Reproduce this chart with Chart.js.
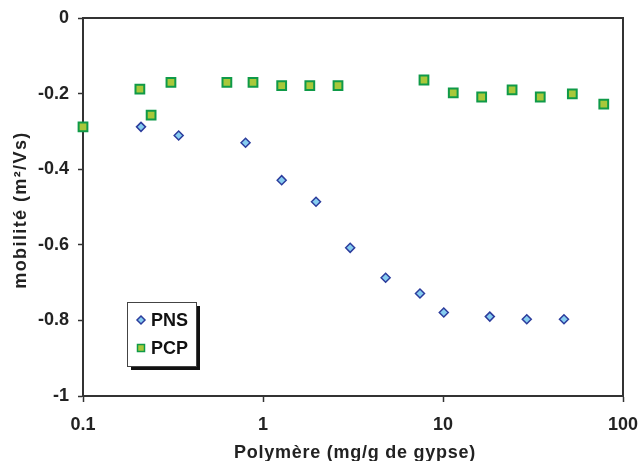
<!DOCTYPE html>
<html>
<head>
<meta charset="utf-8">
<script src="https://cdn.jsdelivr.net/npm/chart.js"></script>
<style>
  html, body { margin: 0; padding: 0; background: #fff; }
  #wrap { width: 640px; height: 461px; }
</style>
</head>
<body>
<div id="wrap"><canvas id="chart" width="640" height="461"></canvas></div>
<script>
// values
const pnsX = [0.21, 0.34, 0.80, 1.27, 1.97, 3.05, 4.8, 7.45, 10.1, 18.2, 29.2, 47];
const pnsY = [-0.288, -0.311, -0.33, -0.429, -0.486, -0.608, -0.687, -0.729, -0.779, -0.79, -0.797, -0.797];
const pcpX = [0.1, 0.207, 0.239, 0.308, 0.63, 0.88, 1.27, 1.82, 2.61, 7.84, 11.4, 16.4, 24.2, 34.7, 52.3, 78.2];
const pcpY = [-0.288, -0.188, -0.257, -0.17, -0.17, -0.17, -0.179, -0.179, -0.179, -0.164, -0.198, -0.209, -0.19, -0.209, -0.201, -0.228];
const xTicks = [0.1, 1, 10, 100];
const seriesNames = ["PNS", "PCP"];
const xTitle = "Polymère (mg/g de gypse)";
const yTitle = "mobilité (m²/Vs)";

const FONT = "'Liberation Sans', Arial, sans-serif";
const AXIS = "#333333";

const toPoints = (xs, ys) => xs.map((x, i) => ({ x: x, y: ys[i] }));

// box around the plot (top + right edges), axis titles (a bit stretched), legend with shadow
const framePlugin = {
  id: "frame",
  afterDraw(chart) {
    const ctx = chart.ctx;
    const a = chart.chartArea;
    ctx.save();
    ctx.strokeStyle = AXIS;
    ctx.lineWidth = 2;
    ctx.beginPath();
    ctx.moveTo(a.left, a.top);
    ctx.lineTo(a.right, a.top);
    ctx.lineTo(a.right, a.bottom);
    ctx.stroke();

    // titles
    ctx.fillStyle = "#222";
    ctx.font = "bold 18px " + FONT;
    ctx.textAlign = "center";
    ctx.textBaseline = "middle";
    ctx.letterSpacing = "0.75px";
    ctx.fillText(xTitle, (a.left + a.right) / 2 + 2, 453);
    ctx.save();
    ctx.translate(21, (a.top + a.bottom) / 2 + 3);
    ctx.rotate(-Math.PI / 2);
    ctx.letterSpacing = "1.4px";
    ctx.fillText(yTitle, 0, 0);
    ctx.restore();
    ctx.letterSpacing = "0px";

    // legend
    const lx = 127, ly = 302, lw = 69, lh = 64;
    ctx.fillStyle = "#111";
    ctx.fillRect(lx + 4, ly + 4, lw, lh);
    ctx.fillStyle = "#fff";
    ctx.fillRect(lx, ly, lw, lh);
    ctx.strokeStyle = "#444";
    ctx.lineWidth = 1;
    ctx.strokeRect(lx + 0.5, ly + 0.5, lw, lh);

    const ds = chart.data.datasets;
    const rows = [ly + 18, ly + 46];
    ds.forEach((d, i) => {
      const cx = lx + 14, cy = rows[i];
      ctx.fillStyle = d.backgroundColor;
      ctx.strokeStyle = d.borderColor;
      ctx.lineWidth = 1.5;
      ctx.beginPath();
      if (d.pointStyle === "rectRot") {
        ctx.moveTo(cx, cy - 4);
        ctx.lineTo(cx + 4, cy);
        ctx.lineTo(cx, cy + 4);
        ctx.lineTo(cx - 4, cy);
        ctx.closePath();
      } else {
        ctx.rect(cx - 3.5, cy - 3.5, 7, 7);
      }
      ctx.fill();
      ctx.stroke();
      ctx.fillStyle = "#111";
      ctx.font = "bold 18px " + FONT;
      ctx.textBaseline = "middle";
      ctx.textAlign = "left";
      ctx.fillText(d.label, lx + 24, cy + 1);
    });
    ctx.restore();
  },
};

new Chart(document.getElementById("chart"), {
  type: "scatter",
  data: {
    datasets: [
      {
        label: seriesNames[0],
        data: toPoints(pnsX, pnsY),
        pointStyle: "rectRot",
        pointRadius: 4.5,
        pointHoverRadius: 4.5,
        backgroundColor: "#86cdf0",
        borderColor: "#2c3c9c",
        borderWidth: 1.5,
        clip: false,
      },
      {
        label: seriesNames[1],
        data: toPoints(pcpX, pcpY),
        pointStyle: "rect",
        pointRadius: 6.2,
        pointHoverRadius: 6.2,
        backgroundColor: "#a8c83a",
        borderColor: "#0f9a48",
        borderWidth: 2,
        clip: false,
      },
    ],
  },
  options: {
    responsive: false,
    animation: false,
    layout: { padding: { top: 18, right: 17, left: 0, bottom: 0 } },
    plugins: {
      legend: { display: false },
      tooltip: { enabled: false },
    },
    scales: {
      x: {
        type: "logarithmic",
        min: 0.1,
        max: 100,
        afterBuildTicks: (scale) => {
          scale.ticks = xTicks.map((v) => ({ value: v }));
        },
        afterFit: (scale) => {
          scale.height = 65;
          scale.paddingLeft = 0;
          scale.paddingRight = 0;
        },
        ticks: {
          autoSkip: false,
          maxRotation: 0,
          padding: 12,
          color: "#222",
          font: { family: FONT, size: 18, weight: "bold" },
          callback: (v) => String(v),
        },
        grid: {
          drawOnChartArea: false,
          drawTicks: true,
          tickLength: 6,
          tickColor: AXIS,
          tickWidth: 1.5,
        },
        border: { display: true, color: AXIS, width: 2 },
      },
      y: {
        min: -1,
        max: 0,
        afterFit: (scale) => {
          scale.width = 83;
          scale.paddingTop = 0;
          scale.paddingBottom = 0;
        },
        ticks: {
          stepSize: 0.2,
          padding: 9,
          color: "#222",
          font: { family: FONT, size: 18, weight: "bold" },
          callback: (v) => String(Math.round(v * 10) / 10),
        },
        grid: {
          drawOnChartArea: false,
          drawTicks: true,
          tickLength: 5,
          tickColor: AXIS,
          tickWidth: 1.5,
        },
        border: { display: true, color: AXIS, width: 2 },
      },
    },
  },
  plugins: [framePlugin],
});
</script>
</body>
</html>
